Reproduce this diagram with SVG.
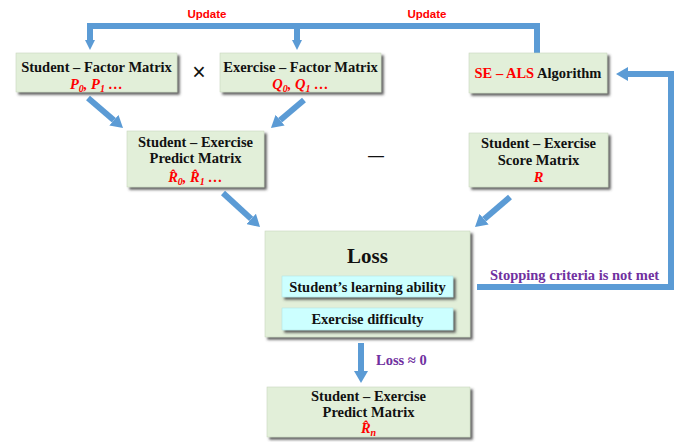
<svg xmlns="http://www.w3.org/2000/svg" width="688" height="442" viewBox="0 0 688 442">
  <style>
    .box { fill: #E2EFD9; stroke: #C9D6BF; stroke-width: 0.6; filter: url(#shadow); }
    .sub { fill: #CCFFFF; stroke: #B4E4E4; stroke-width: 0.6; filter: url(#shadow); }
    .t { font-family: "Liberation Serif", "DejaVu Serif", serif; font-weight: bold; font-size: 14.5px; fill: #111; text-anchor: middle; }
    .big { font-size: 21px; }
    .m { font-family: "Liberation Serif", "DejaVu Serif", serif; font-weight: bold; font-style: italic; font-size: 14.5px; fill: #FF0000; text-anchor: middle; }
    .red { fill: #FF0000; }
    .upd { font-family: "Liberation Sans", Arial, sans-serif; font-weight: bold; font-size: 11.5px; fill: #FF0000; text-anchor: middle; }
    .purple { font-family: "Liberation Serif", "DejaVu Serif", serif; font-weight: bold; font-size: 14.5px; fill: #7030A0; }
    .op { font-family: "Liberation Sans", Arial, sans-serif; fill: #111; text-anchor: middle; }
    .wire { fill: none; stroke: #5B9BD5; stroke-width: 6; stroke-linejoin: miter; }
  </style>
  <defs>
    <filter id="shadow" x="-10%" y="-10%" width="130%" height="140%">
      <feDropShadow dx="2.5" dy="2.5" stdDeviation="0.9" flood-color="#4a4a4a" flood-opacity="0.85"/>
    </filter>
    <marker id="head" viewBox="0 0 12 14" refX="0" refY="7" markerWidth="12" markerHeight="14" markerUnits="userSpaceOnUse" orient="auto">
      <path d="M0,0 L12,7 L0,14 z" fill="#5B9BD5"/>
    </marker>
    <marker id="headS" viewBox="0 0 10 10" refX="0" refY="5" markerWidth="10" markerHeight="10" markerUnits="userSpaceOnUse" orient="auto">
      <path d="M0,0 L10,5 L0,10 z" fill="#5B9BD5"/>
    </marker>
  </defs>

  <!-- connectors -->
  <g id="connectors">
    <path class="wire" d="M537,53 V26 H90 V40" marker-end="url(#headS)"/>
    <path class="wire" d="M297,26 V40" marker-end="url(#headS)"/>
    <line class="wire" x1="88" y1="98" x2="113.9" y2="120.2" marker-end="url(#head)"/>
    <line class="wire" x1="304" y1="100" x2="280.1" y2="120.2" marker-end="url(#head)"/>
    <line class="wire" x1="223" y1="193" x2="251.2" y2="218.9" marker-end="url(#head)"/>
    <line class="wire" x1="510" y1="197" x2="484.1" y2="219.2" marker-end="url(#head)"/>
    <path class="wire" d="M477,287 H671 V74 H628" marker-end="url(#head)"/>
    <line class="wire" x1="361" y1="343" x2="361" y2="371" marker-end="url(#head)"/>
    <text class="upd" x="207" y="18">Update</text>
    <text class="upd" x="427" y="18">Update</text>
    <text class="purple" x="490" y="280">Stopping criteria is not met</text>
    <text class="purple" x="376" y="365">Loss ≈ 0</text>
    <text class="op" x="199" y="80" font-size="23">×</text>
    <text class="op" x="376" y="161" font-size="16">—</text>
  </g>

  <!-- factor matrices -->
  <g id="student-factor">
    <rect class="box" x="16" y="53" width="161" height="39"/>
    <text class="t" x="96.5" y="72">Student – Factor Matrix</text>
    <text class="m" x="96.5" y="89">P<tspan font-size="10" dy="3">0</tspan><tspan dy="-3">, P</tspan><tspan font-size="10" dy="3">1</tspan><tspan dy="-3"> …</tspan></text>
  </g>
  <g id="exercise-factor">
    <rect class="box" x="220" y="53" width="161" height="39"/>
    <text class="t" x="300.5" y="72">Exercise – Factor Matrix</text>
    <text class="m" x="300.5" y="89">Q<tspan font-size="10" dy="3">0</tspan><tspan dy="-3">, Q</tspan><tspan font-size="10" dy="3">1</tspan><tspan dy="-3"> …</tspan></text>
  </g>
  <g id="se-als">
    <rect class="box" x="469" y="53" width="138" height="40"/>
    <text class="t" x="538" y="78"><tspan class="red">SE – ALS</tspan> Algorithm</text>
  </g>

  <!-- predicted and observed matrices -->
  <g id="predict-matrix">
    <rect class="box" x="127" y="131" width="137" height="56"/>
    <text class="t" x="195.5" y="147">Student – Exercise</text>
    <text class="t" x="195.5" y="163">Predict Matrix</text>
    <text class="m" x="195.5" y="182">R̂<tspan font-size="10" dy="3">0</tspan><tspan dy="-3">, R̂</tspan><tspan font-size="10" dy="3">1</tspan><tspan dy="-3"> …</tspan></text>
  </g>
  <g id="score-matrix">
    <rect class="box" x="469" y="133" width="139" height="54"/>
    <text class="t" x="538.5" y="148">Student – Exercise</text>
    <text class="t" x="538.5" y="165">Score Matrix</text>
    <text class="m" x="538.5" y="182">R</text>
  </g>

  <!-- loss -->
  <g id="loss">
    <rect class="box" x="265" y="231" width="205" height="106"/>
    <text class="t big" x="367.5" y="263">Loss</text>
    <rect class="sub" x="282" y="276" width="171" height="21"/>
    <text class="t" x="367.5" y="291.5">Student’s learning ability</text>
    <rect class="sub" x="282" y="308" width="171" height="22"/>
    <text class="t" x="367.5" y="324">Exercise difficulty</text>
  </g>

  <!-- final result -->
  <g id="final-matrix">
    <rect class="box" x="267" y="387" width="203" height="50"/>
    <text class="t" x="368.5" y="401">Student – Exercise</text>
    <text class="t" x="368.5" y="417">Predict Matrix</text>
    <text class="m" x="368.5" y="433">R̂<tspan font-size="10" dy="3">n</tspan></text>
  </g>
</svg>
